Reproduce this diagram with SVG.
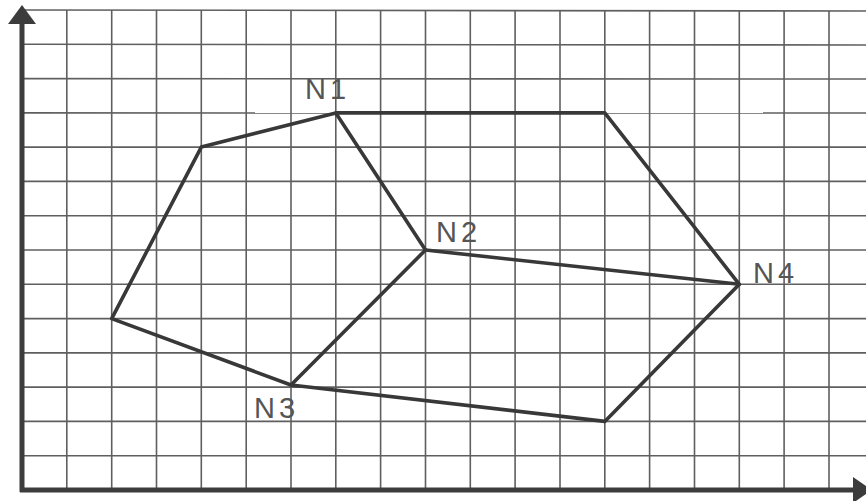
<svg xmlns="http://www.w3.org/2000/svg" width="866" height="501" viewBox="0 0 866 501">
<defs>
<style>
.grid line{stroke:#5f5f5f;stroke-width:1.6}
.axis{stroke:#3c3c3c;stroke-width:5;fill:none}
.head{fill:#3c3c3c}
.edge{stroke:#383838;stroke-width:3.6;stroke-linecap:round;stroke-linejoin:round;fill:none}
.lbl{font-family:"Liberation Sans",Arial,sans-serif;font-size:29px;fill:#555;letter-spacing:4px}
</style>
</defs>
<rect width="866" height="501" fill="#fff"/>
<g id="grid" class="grid">
<line x1="22" y1="10" x2="866" y2="11"/>
<line x1="22" y1="44.3" x2="866" y2="45"/>
<line x1="22" y1="78.6" x2="866" y2="79"/>
<line x1="22" y1="112.9" x2="866" y2="113"/>
<line x1="22" y1="147.1" x2="866" y2="147.1"/>
<line x1="22" y1="181.4" x2="866" y2="181.4"/>
<line x1="22" y1="215.7" x2="866" y2="215.7"/>
<line x1="22" y1="250" x2="866" y2="250"/>
<line x1="22" y1="284.3" x2="866" y2="284.3"/>
<line x1="22" y1="318.6" x2="866" y2="318.6"/>
<line x1="22" y1="352.9" x2="866" y2="352.9"/>
<line x1="22" y1="387.1" x2="866" y2="387.1"/>
<line x1="22" y1="421.4" x2="866" y2="421.4"/>
<line x1="22" y1="455.7" x2="866" y2="455.7"/>
<line x1="66.8" y1="10" x2="66.8" y2="490"/>
<line x1="111.7" y1="10" x2="111.7" y2="490"/>
<line x1="156.5" y1="10" x2="156.5" y2="490"/>
<line x1="201.3" y1="10" x2="201.3" y2="490"/>
<line x1="246.2" y1="10" x2="246.2" y2="490"/>
<line x1="291" y1="10" x2="291" y2="490"/>
<line x1="335.8" y1="10" x2="335.8" y2="490"/>
<line x1="380.6" y1="10" x2="380.6" y2="490"/>
<line x1="425.5" y1="10" x2="425.5" y2="490"/>
<line x1="470.3" y1="10" x2="470.3" y2="490"/>
<line x1="515.1" y1="10" x2="515.1" y2="490"/>
<line x1="560" y1="10" x2="560" y2="490"/>
<line x1="604.8" y1="10" x2="604.8" y2="490"/>
<line x1="649.6" y1="10" x2="649.6" y2="490"/>
<line x1="694.5" y1="10" x2="694.5" y2="490"/>
<line x1="739.3" y1="11" x2="739.3" y2="490"/>
<line x1="784.1" y1="11" x2="784.1" y2="490"/>
<line x1="829" y1="11" x2="829" y2="490"/>
</g>
<g id="axes">
<line class="axis" x1="22" y1="20" x2="22" y2="492"/>
<line class="axis" x1="20" y1="490" x2="856" y2="490"/>
<polygon class="head" points="22,5 36,24 8,24"/>
<polygon class="head" points="872,490 853,477 853,503"/>
</g>
<g id="connectors">
<polyline class="edge" points="335.8,112.9 201.3,147.1 111.7,318.6 291,385 604.8,421.4 739.3,284.3 604.8,112.9 335.8,112.9"/>
<polyline class="edge" points="335.8,112.9 425.5,250 291,385"/>
<line class="edge" x1="425.5" y1="250" x2="739.3" y2="284.3"/>
</g>
<g id="N1"><text class="lbl" x="305" y="99">N1</text></g>
<g id="N2"><text class="lbl" x="436" y="242">N2</text></g>
<g id="N3"><text class="lbl" x="254" y="418">N3</text></g>
<g id="N4"><text class="lbl" x="753" y="283">N4</text></g>
</svg>
